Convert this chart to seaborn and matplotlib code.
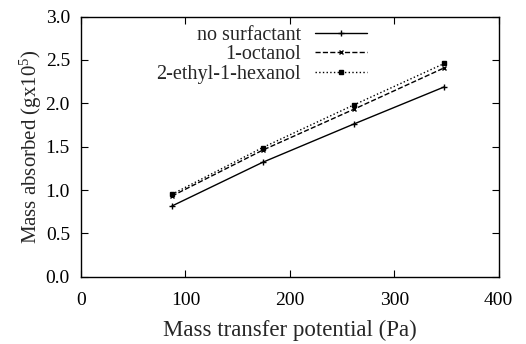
import matplotlib
matplotlib.use("Agg")
import matplotlib.pyplot as plt
import seaborn as sns
import pandas as pd

potential = [87, 174, 261, 348]
no_surfactant = [0.815, 1.32, 1.76, 2.19]
octanol = [0.93, 1.46, 1.93, 2.41]
ethylhexanol = [0.95, 1.49, 1.98, 2.46]
series_names = ["no surfactant", "1-octanol", "2-ethyl-1-hexanol"]
x_ticks = [0, 100, 200, 300, 400]
y_ticks = [0.0, 0.5, 1.0, 1.5, 2.0, 2.5, 3.0]

sns.set_style("ticks")
plt.rcParams["font.family"] = ["Liberation Serif", "DejaVu Serif"]
plt.rcParams["mathtext.fontset"] = "custom"
plt.rcParams["mathtext.rm"] = "Liberation Serif"
plt.rcParams["mathtext.default"] = "regular"

fig = plt.figure(figsize=(5.26, 3.44), dpi=100)
ax = fig.add_axes([0.154, 0.1956, 0.794, 0.756])

styles = [("-", "+", 4, 1.0), ("--", "x", 3.5, 1.0), (":", "s", 3.2, 1.0)]
for name, vals, (ls, mk, ms, lw) in zip(series_names, [no_surfactant, octanol, ethylhexanol], styles):
    df = pd.DataFrame({"x": potential, "y": vals})
    sns.lineplot(data=df, x="x", y="y", ax=ax, color="black", linestyle=ls,
                 marker=mk, markersize=ms, linewidth=lw, label=name,
                 markeredgecolor="black", markerfacecolor="black", markeredgewidth=1.0)

ax.set_xlim(0, 400)
ax.set_ylim(0, 3.0)
ax.set_xticks(x_ticks)
ax.set_yticks(y_ticks)
ax.set_yticklabels([f"{v:.1f}" for v in y_ticks])
ax.tick_params(direction="in", length=5, width=0.8, labelsize=14,
               top=True, right=True, colors="black")
ax.tick_params(axis="x", pad=11)
ax.tick_params(axis="y", pad=8)
for s in ax.spines.values():
    s.set_linewidth(1.0)
    s.set_color("black")

ax.set_xlabel("Mass transfer potential (Pa)", fontsize=16.5, labelpad=8)
ax.set_ylabel("Mass absorbed (gx10$^{5}$)", fontsize=15, labelpad=1)

leg = ax.legend(loc="upper right", bbox_to_anchor=(0.685, 0.966), frameon=False,
                markerfirst=False, fontsize=14.5, handlelength=2.6, handletextpad=0.7,
                labelspacing=0.03, borderpad=0, borderaxespad=0)

fig.savefig("out.png", dpi=100)
